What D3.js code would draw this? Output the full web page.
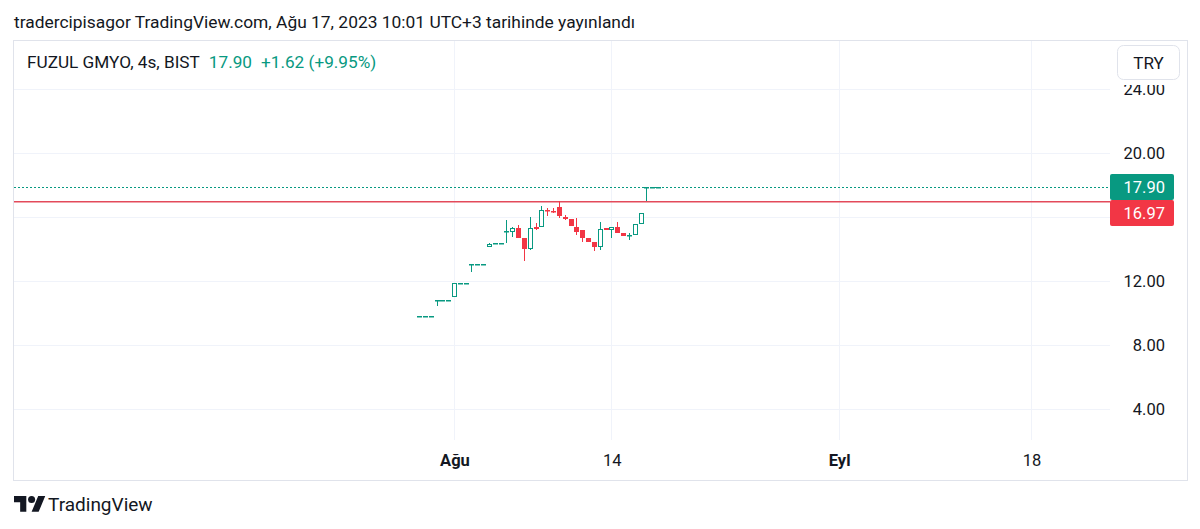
<!DOCTYPE html>
<html><head><meta charset="utf-8">
<script src="https://cdn.jsdelivr.net/npm/d3@7"></script>
<style>
body{margin:0;background:#fff;}
svg{display:block;font-family:Roboto,'Noto Sans',sans-serif;}
</style>
</head><body>
<svg id="c" width="1200" height="529"></svg>
<script>
// ---- data (4h bars, BIST session, 3 bars per trading day) ----
const barLabels = [
 "Tem 28 a","Tem 28 b","Tem 28 c","Tem 31 a","Tem 31 b","Tem 31 c",
 "Ağu 1 a","Ağu 1 b","Ağu 1 c","Ağu 2 a","Ağu 2 b","Ağu 2 c",
 "Ağu 3 a","Ağu 3 b","Ağu 3 c","Ağu 4 a","Ağu 4 b","Ağu 4 c",
 "Ağu 7 a","Ağu 7 b","Ağu 7 c","Ağu 8 a","Ağu 8 b","Ağu 8 c",
 "Ağu 9 a","Ağu 9 b","Ağu 9 c","Ağu 10 a","Ağu 10 b","Ağu 10 c",
 "Ağu 11 a","Ağu 11 b","Ağu 11 c","Ağu 14 a","Ağu 14 b","Ağu 14 c",
 "Ağu 15 a","Ağu 15 b","Ağu 15 c","Ağu 16 a","Ağu 16 b","Ağu 16 c"];
const barIndex = [-6,-5,-4,-3,-2,-1,0,1,2,3,4,5,6,7,8,9,10,11,12,13,14,15,16,17,18,19,20,21,22,23,24,25,26,27,28,29,30,31,32,33,34,35];
const opens  = [9.83,9.83,9.83,10.81,10.81,10.81,11.02,11.89,11.89,13.08,13.08,13.08,14.14,14.39,14.39,15.08,15.04,15.29,14.67,14.00,15.35,15.40,16.44,16.35,16.61,15.98,15.87,15.40,15.19,14.71,14.46,14.14,15.29,15.19,15.40,14.98,14.83,14.88,15.54,17.90,17.90,17.90];
const highs  = [9.83,9.83,9.83,10.81,10.81,10.81,11.89,11.89,11.89,13.08,13.08,13.08,14.39,14.39,14.39,15.81,15.39,15.50,14.67,15.98,15.60,16.69,16.54,16.54,16.97,16.10,15.87,15.96,15.19,14.71,14.46,15.71,15.33,15.40,15.71,14.98,14.98,15.54,16.28,17.90,17.90,17.90];
const lows   = [9.83,9.83,9.83,10.44,10.81,10.81,11.02,11.89,11.89,12.58,13.08,13.08,14.14,14.39,14.39,14.36,14.77,14.67,13.25,13.94,15.17,15.40,16.08,16.22,15.92,15.81,15.46,14.88,14.46,14.46,13.88,13.94,15.16,14.71,14.98,14.81,14.56,14.88,15.54,16.97,17.90,17.90];
const closes = [9.83,9.83,9.83,10.81,10.81,10.81,11.89,11.89,11.89,13.08,13.08,13.08,14.30,14.39,14.39,15.10,15.29,14.67,14.00,15.29,15.25,16.44,16.39,16.29,16.08,15.87,15.46,15.08,14.67,14.46,14.14,15.23,15.20,15.40,14.98,14.81,14.88,15.54,16.28,17.90,17.90,17.90];

const priceTicks = [4,8,12,16,20,24];
const priceTickLabels = ["4.00","8.00","12.00","16.00","20.00","24.00"];
const hiddenPriceLabels = ["16.00"];
const timeTickBars = [0,27,66,99];
const timeTickLabels = ["Ağu","14","Eyl","18"];
const timeTickBold = [true,false,true,false];
const lastPrice = 17.90, lastChange = 1.62, lastChangePct = 9.95;
const hLineLevel = 16.97;

// ---- layout ----
const svg = d3.select("#c");
const frame = {l:13, t:40, r:1187, b:480};
const plot = {l:13, t:40, r:1110, b:440};
const teal = "#089981", red = "#F23645", txt = "#131722", grid = "#f0f3fa";

const y = d3.scaleLinear().domain([4,24]).range([409,89]);
const x = d3.scaleLinear().domain([0,99]).range([454,1031]);

// title
svg.append("text").attr("x",14).attr("y",28).attr("font-size",17.4).attr("fill",txt)
  .text("tradercipisagor TradingView.com, Ağu 17, 2023 10:01 UTC+3 tarihinde yayınlandı");

// frame
svg.append("rect").attr("x",frame.l+0.5).attr("y",frame.t+0.5)
  .attr("width",frame.r-frame.l).attr("height",frame.b-frame.t)
  .attr("fill","none").attr("stroke","#e0e3eb");

// grid
const g = svg.append("g");
g.selectAll(".hg").data(priceTicks).join("line")
  .attr("x1",plot.l+1).attr("x2",plot.r)
  .attr("y1",d=>Math.round(y(d))+0.5).attr("y2",d=>Math.round(y(d))+0.5)
  .attr("stroke",grid);
g.selectAll(".vg").data(timeTickBars).join("line")
  .attr("y1",plot.t+1).attr("y2",plot.b)
  .attr("x1",d=>Math.round(x(d))+0.5).attr("x2",d=>Math.round(x(d))+0.5)
  .attr("stroke",grid);

// price axis labels
svg.selectAll(".pl").data(priceTicks.filter((d,i)=>!hiddenPriceLabels.includes(priceTickLabels[i]))).join("text")
  .attr("x",1165).attr("y",d=>y(d)+6).attr("text-anchor","end")
  .attr("font-size",16.5).attr("fill",txt)
  .text(d=>priceTickLabels[priceTicks.indexOf(d)]);

// time axis labels
svg.selectAll(".tl").data(timeTickBars).join("text")
  .attr("x",d=>x(d)+1).attr("y",466).attr("text-anchor","middle")
  .attr("font-size",16.5).attr("fill",txt)
  .attr("font-weight",(d,i)=>timeTickBold[i]?"bold":"normal")
  .text((d,i)=>timeTickLabels[i]);

// horizontal user line & last price line
svg.append("rect").attr("x",plot.l+1).attr("width",plot.r-plot.l-1)
  .attr("y",Math.round(y(hLineLevel))).attr("height",1.5)
  .attr("fill","#e34a5a");
svg.append("line").attr("x1",plot.l+1).attr("x2",plot.r)
  .attr("y1",Math.round(y(lastPrice))+0.5).attr("y2",Math.round(y(lastPrice))+0.5)
  .attr("stroke",teal).attr("stroke-dasharray","2 2");

// candles
const bars = barIndex.map((b,i)=>({b,o:opens[i],h:highs[i],l:lows[i],c:closes[i],label:barLabels[i]}));
const cg = svg.append("g");
bars.forEach(d=>{
  const cx = Math.round(x(d.b));
  const col = d.c >= d.o ? teal : red;
  const yh = Math.round(y(d.h)), yl = Math.round(y(d.l));
  const yt = Math.round(y(Math.max(d.o,d.c))), yb = Math.round(y(Math.min(d.o,d.c)));
  if (yl > yh) cg.append("line").attr("x1",cx+0.5).attr("x2",cx+0.5).attr("y1",yh).attr("y2",yl).attr("stroke",col);
  if (d.c > d.o && yb - yt >= 2) {
    cg.append("rect").attr("x",cx-1.5).attr("y",yt+0.5).attr("width",4).attr("height",yb-yt-1)
      .attr("fill","#fff").attr("stroke",col);
  } else {
    cg.append("rect").attr("x",cx-2).attr("y",yt).attr("width",5).attr("height",Math.max(yb-yt,1.5))
      .attr("fill",col);
  }
});

// price labels on axis
function priceBox(v, col, top){
  svg.append("rect").attr("x",1110).attr("y",top).attr("width",64).attr("height",26).attr("rx",2).attr("fill",col);
  svg.append("text").attr("x",1165).attr("y",top+19).attr("text-anchor","end")
    .attr("font-size",16.5).attr("fill","#fff").text(v.toFixed(2));
}
priceBox(lastPrice, teal, Math.round(y(lastPrice))-13);
priceBox(hLineLevel, red, Math.round(y(lastPrice))+13);

// legend
const lg = svg.append("text").attr("x",27).attr("y",68).attr("font-size",17.2).attr("fill",txt);
lg.append("tspan").text("FUZUL GMYO, 4s, BIST");
lg.append("tspan").attr("dx",9).attr("fill",teal).text(lastPrice.toFixed(2));
lg.append("tspan").attr("dx",9).attr("fill",teal).text("+"+lastChange.toFixed(2)+" (+"+lastChangePct.toFixed(2)+"%)");

// TRY button (with white halo that slightly covers the top tick label)
svg.append("rect").attr("x",1112).attr("y",42).attr("width",72).attr("height",43).attr("fill","#fff");
svg.append("rect").attr("x",1117.5).attr("y",45.5).attr("width",62).attr("height",34).attr("rx",6)
  .attr("fill","#fff").attr("stroke","#e0e3eb");
svg.append("text").attr("x",1148.5).attr("y",69).attr("text-anchor","middle").attr("font-size",17).attr("fill",txt).text("TRY");

// TradingView logo
const logo = svg.append("g").attr("transform","translate(14,492.5) scale(0.88)").attr("fill",txt);
logo.append("path").attr("d","M14 22H7V11H0V4h14v18zM28 22h-8l7.5-18h8L28 22z");
logo.append("circle").attr("cx",20).attr("cy",8).attr("r",4);
svg.append("text").attr("x",48).attr("y",511).attr("font-size",19).attr("fill",txt).text("TradingView");
</script>
</body></html>
